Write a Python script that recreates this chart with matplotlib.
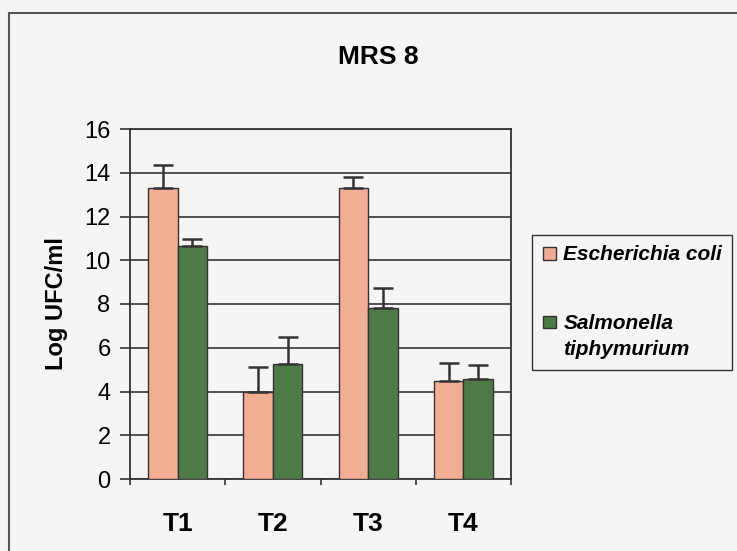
import matplotlib
matplotlib.use("Agg")
import matplotlib.pyplot as plt
from matplotlib.lines import Line2D
from matplotlib.patches import Rectangle
from matplotlib.legend_handler import HandlerPatch
import numpy as np

plt.rcParams['font.family'] = ['Liberation Sans', 'DejaVu Sans']

categories = ["T1", "T2", "T3", "T4"]
ecoli = [13.3, 4.0, 13.3, 4.5]
ecoli_err = [1.05, 1.1, 0.5, 0.8]
salmonella = [10.65, 5.25, 7.8, 4.55]
salmonella_err = [0.3, 1.25, 0.95, 0.65]
series_labels = ["Escherichia coli", "Salmonella\ntiphymurium"]
y_ticks = [0, 2, 4, 6, 8, 10, 12, 14, 16]

bg = "#f7f4f4"
ecoli_color = "#f2ae95"
salm_color = "#4d7a45"
dark = "#333333"

W, H = 737, 551
fig = plt.figure(figsize=(W / 100, H / 100), dpi=100, facecolor=bg)
ax = fig.add_axes([130 / W, 1 - 479 / H, 381 / W, 350 / H], facecolor=bg)

x = np.arange(len(categories))
bw = 0.31
err_kw = dict(ecolor=dark, elinewidth=1.8, capsize=7, capthick=1.8)
b1 = ax.bar(x - bw / 2, ecoli, bw, color=ecoli_color, edgecolor=dark, linewidth=1.0,
            yerr=[np.zeros(len(ecoli)), ecoli_err], error_kw=err_kw, zorder=3,
            label=series_labels[0])
b2 = ax.bar(x + bw / 2, salmonella, bw, color=salm_color, edgecolor=dark, linewidth=1.0,
            yerr=[np.zeros(len(salmonella)), salmonella_err], error_kw=err_kw, zorder=3,
            label=series_labels[1])

ax.set_xlim(-0.5, len(categories) - 0.5)
ax.set_ylim(y_ticks[0], y_ticks[-1])
ax.set_yticks(y_ticks)
ax.set_yticklabels([str(t) for t in y_ticks], fontsize=17)
ax.yaxis.grid(True, color="#444444", linewidth=1.3, zorder=0)
ax.set_axisbelow(True)

ax.set_xticks(x)
ax.set_xticklabels(categories, fontsize=19, fontweight="bold")
ax.set_xticks(np.arange(-0.5, len(categories), 1.0), minor=True)
ax.tick_params(axis="x", which="major", length=0, pad=24)
ax.tick_params(axis="x", which="minor", length=4, width=1.2, color=dark, direction="out")
ax.tick_params(axis="y", length=7, width=1.2, color=dark, pad=7)

for s in ax.spines.values():
    s.set_color(dark)
    s.set_linewidth(1.3)

ax.set_ylabel("Log UFC/ml", fontsize=17, fontweight="bold", labelpad=12)

fig.text(378 / W, 1 - 57 / H, "MRS 8", fontsize=19, fontweight="bold",
         ha="center", va="center")

two_line_handle = b2.patches[0]


def top_line_square(legend, orig_handle, xdescent, ydescent, width, height, fontsize):
    # square handle aligned with the first line of a two-line label
    side = 0.62 * fontsize
    lift = 0.72 * fontsize if orig_handle is two_line_handle else 0.0
    return Rectangle((-xdescent + (width - side) / 2, -ydescent + (height - side) / 2 + lift),
                     side, side)


handler = HandlerPatch(patch_func=top_line_square)
leg = fig.legend(handles=[b1.patches[0], b2.patches[0]], labels=series_labels,
                 handler_map={type(b1.patches[0]): handler},
                 loc="upper left", bbox_to_anchor=(532 / W, 1 - 235 / H),
                 frameon=True, fancybox=False, edgecolor=dark, facecolor=bg,
                 prop=dict(size=15, weight="bold", style="italic"),
                 handlelength=0.7, handleheight=0.7, handletextpad=0.3,
                 labelspacing=2.4, borderpad=0.5, borderaxespad=0)
leg.get_texts()[1].set_linespacing(1.45)
leg.get_frame().set_linewidth(1.0)
leg.get_frame().set_alpha(None)

# outer frame of the chart sheet
fig.add_artist(Line2D([9 / W, 1.0], [1 - 13 / H, 1 - 13 / H], color="#555555", linewidth=1.5))
fig.add_artist(Line2D([9 / W, 9 / W], [0.0, 1 - 13 / H], color="#555555", linewidth=1.5))

fig.savefig("out.png", dpi=100, facecolor=bg)
